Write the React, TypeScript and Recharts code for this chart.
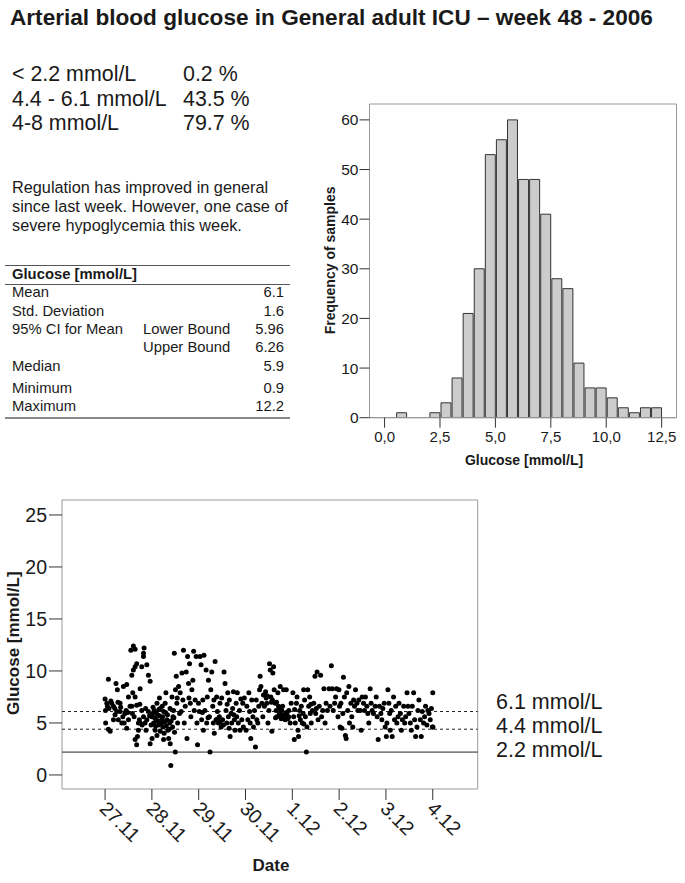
import React from "react";
import {
  ComposedChart, Bar, XAxis, YAxis, ReferenceArea, ScatterChart, Scatter, ReferenceLine,
} from "recharts";

// ---------- Histogram data ----------
const binStarts = [0.5, 1.0, 1.5, 2.0, 2.5, 3.0, 3.5, 4.0, 4.5, 5.0, 5.5, 6.0, 6.5, 7.0, 7.5, 8.0, 8.5, 9.0, 9.5, 10.0, 10.5, 11.0, 11.5, 12.0];
const binCounts = [1, 0, 0, 1, 3, 8, 21, 30, 53, 56, 60, 48, 48, 41, 28, 26, 11, 6, 6, 4, 2, 1, 2, 2];
const binWidth = 0.5;
const histXTicks = [0, 2.5, 5, 7.5, 10, 12.5];
const histYTicks = [0, 10, 20, 30, 40, 50, 60];

// ---------- Scatter data: [hour of day, glucose mmol/L] ----------
const dateLabels = ["27.11", "28.11", "29.11", "30.11", "1.12", "2.12", "3.12", "4.12"];
const nov27: [number, number][] = [
  [0.0, 7.3], [0.2, 6.2], [0.3, 5.0], [0.9, 6.9], [1.7, 9.2], [1.7, 4.4], [2.6, 4.2], [3.4, 6.9], [4.3, 6.6], [4.3, 5.3],
  [5.1, 5.8], [5.6, 8.8], [6.0, 6.1], [6.3, 8.2], [6.8, 5.3], [7.7, 6.9], [7.7, 6.1], [8.6, 5.0], [9.1, 5.6], [9.4, 8.5],
  [9.8, 5.0], [10.8, 6.2], [11.1, 8.7], [11.1, 4.5], [12.0, 7.5], [12.0, 5.3], [12.8, 6.6], [13.2, 12.0], [13.7, 9.6], [13.7, 6.6],
  [14.2, 7.9], [14.5, 12.4], [14.5, 10.1], [14.9, 5.6], [15.4, 12.1], [15.4, 10.4], [15.4, 7.5], [15.4, 3.4], [16.2, 10.7], [16.2, 6.7],
  [16.2, 2.9], [16.6, 3.7], [17.1, 5.0], [17.1, 4.3], [17.6, 5.3], [18.0, 8.3], [18.0, 5.0], [18.8, 10.4], [18.8, 6.2], [19.7, 11.4],
  [19.7, 11.7], [19.7, 5.6], [20.0, 12.2], [20.5, 5.0], [21.0, 4.3], [21.4, 10.6], [21.4, 5.3], [22.2, 9.6], [22.2, 6.1], [23.1, 9.0],
  [23.1, 3.0], [2.0, 6.4], [3.0, 7.1], [5.0, 6.4], [8.0, 6.5], [10.2, 5.9], [14.0, 5.9], [19.0, 4.8], [22.8, 5.7],
  [1.2, 6.6], [6.6, 7.0], [11.6, 6.0], [17.8, 6.8], [20.8, 6.4], [23.6, 4.8],
];
const nov28: [number, number][] = [
  [0.0, 5.6], [0.1, 3.5], [0.3, 5.9], [0.9, 5.0], [1.2, 6.2], [1.4, 5.5], [1.7, 4.3], [2.1, 6.0], [2.2, 5.3], [2.6, 6.9],
  [2.6, 3.8], [2.9, 5.8], [3.1, 5.2], [3.4, 4.8], [3.8, 5.7], [3.9, 7.4], [4.3, 6.4], [4.3, 4.2], [4.8, 4.9], [5.1, 5.3],
  [5.5, 5.6], [5.6, 4.6], [6.0, 6.1], [6.0, 3.4], [6.3, 4.0], [6.5, 5.1], [6.8, 6.9], [7.2, 7.9], [7.4, 4.7], [7.7, 5.3],
  [8.0, 5.8], [8.2, 4.3], [8.6, 3.5], [8.9, 4.4], [9.1, 5.0], [9.4, 3.0], [9.7, 0.9], [9.9, 5.2], [10.3, 7.5], [10.6, 4.6],
  [10.8, 5.6], [11.1, 6.2], [11.5, 11.7], [11.6, 4.1], [12.0, 2.2], [12.1, 8.2], [12.5, 9.5], [12.8, 6.9], [13.2, 5.0], [13.7, 8.5],
  [14.2, 5.9], [14.5, 7.9], [15.4, 9.8], [15.9, 7.2], [16.2, 12.0], [16.6, 5.0], [17.1, 6.6], [17.6, 9.9], [18.0, 3.5], [18.3, 11.4],
  [18.8, 8.8], [19.3, 10.7], [19.7, 6.9], [20.0, 5.6], [20.5, 8.2], [21.0, 9.1], [21.4, 11.9], [21.7, 6.2], [22.2, 7.2], [22.7, 11.4],
  [23.1, 5.0], [23.4, 2.9], [23.9, 6.9],
  [0.6, 6.5], [1.9, 4.7], [3.6, 6.3], [5.3, 6.6], [7.0, 6.0], [9.3, 6.4], [11.3, 5.5], [13.0, 7.4], [15.0, 6.1], [19.0, 7.4],
];
const nov29: [number, number][] = [
  [0.3, 6.1], [0.7, 11.4], [1.2, 10.6], [1.5, 5.3], [2.1, 7.2], [2.4, 4.3], [2.7, 11.5], [3.2, 6.2], [3.8, 10.1], [4.1, 5.0],
  [4.4, 7.5], [5.0, 9.1], [5.5, 5.6], [5.8, 2.2], [6.2, 8.2], [6.7, 9.9], [7.2, 6.6], [7.5, 5.0], [8.0, 4.0], [8.4, 10.9],
  [8.9, 5.3], [9.2, 7.5], [9.6, 6.1], [10.1, 5.0], [10.6, 5.6], [10.9, 6.9], [11.5, 4.6], [11.8, 7.4], [12.3, 5.3], [13.0, 9.9],
  [13.5, 8.8], [14.0, 6.2], [14.4, 5.0], [14.9, 7.9], [15.2, 5.6], [15.7, 7.2], [16.1, 3.7], [16.6, 5.9], [16.9, 5.0], [17.4, 6.4],
  [17.8, 8.0], [18.3, 5.3], [18.6, 4.3], [19.2, 6.9], [19.5, 5.6], [19.8, 7.9], [20.3, 5.0], [20.9, 6.2], [21.2, 4.3], [22.1, 5.3],
  [22.6, 6.9], [22.9, 4.6], [23.4, 7.4], [9.8, 5.4], [12.7, 4.8], [15.6, 4.5],
  [1.9, 6.0], [4.8, 5.5], [7.8, 7.2], [11.0, 5.1], [14.6, 6.8], [18.0, 5.8], [21.6, 7.3],
];
const nov30: [number, number][] = [
  [0.3, 4.3], [0.7, 6.6], [1.2, 5.3], [1.7, 7.9], [2.1, 6.1], [2.4, 5.0], [2.7, 3.5], [3.2, 7.2], [3.8, 5.6], [4.1, 4.6],
  [4.6, 6.2], [5.1, 2.7], [5.5, 7.2], [5.8, 5.3], [6.3, 5.0], [6.8, 6.6], [7.2, 8.2], [7.5, 9.5], [7.9, 8.5], [8.4, 6.9],
  [8.9, 5.6], [9.2, 7.7], [9.7, 6.6], [10.3, 8.0], [10.6, 7.4], [10.9, 6.9], [11.5, 5.0], [12.0, 6.2], [12.3, 10.7], [12.7, 10.1],
  [13.0, 7.5], [13.5, 4.2], [14.0, 9.8], [14.4, 10.4], [14.7, 8.2], [15.2, 6.9], [15.4, 5.5], [15.7, 6.2], [16.1, 5.6], [16.6, 7.9],
  [16.9, 6.6], [17.1, 5.7], [17.4, 5.9], [17.8, 8.5], [18.3, 5.4], [18.6, 6.2], [18.8, 5.5], [19.2, 5.8], [19.5, 8.2], [19.8, 5.6],
  [20.3, 5.3], [20.5, 5.7], [20.9, 8.2], [21.2, 5.9], [21.7, 5.4], [22.1, 5.6], [22.2, 6.2], [22.9, 5.0], [23.4, 6.9], [13.2, 7.0],
  [11.2, 7.6], [13.8, 7.2], [15.9, 7.0], [17.6, 6.4], [19.0, 6.6], [21.0, 6.0],
];
const dec1: [number, number][] = [
  [0.3, 7.9], [0.7, 5.6], [1.0, 3.4], [1.5, 5.0], [2.1, 6.9], [2.4, 7.5], [2.9, 4.3], [3.2, 3.7], [3.8, 6.2], [4.1, 5.3],
  [4.6, 6.6], [5.1, 5.0], [5.5, 5.9], [5.8, 8.2], [6.3, 7.2], [6.7, 5.6], [7.2, 2.2], [7.5, 4.6], [7.9, 8.2], [8.4, 6.6],
  [8.9, 7.5], [9.2, 5.9], [9.7, 5.0], [10.3, 6.2], [11.0, 6.9], [11.6, 9.5], [12.0, 5.9], [12.7, 9.9], [13.2, 5.3], [13.8, 6.6],
  [14.5, 9.6], [15.0, 5.6], [15.6, 6.2], [16.2, 8.3], [16.8, 5.0], [17.3, 6.9], [18.0, 6.2], [18.8, 8.3], [19.3, 6.6], [20.0, 10.5],
  [20.5, 8.3], [21.0, 6.2], [21.7, 6.9], [22.2, 7.5], [22.7, 8.3], [23.4, 5.6], [23.9, 8.2],
  [1.2, 6.3], [3.5, 5.7], [5.9, 4.9], [9.5, 6.8], [12.3, 6.4],
];
const dec2: [number, number][] = [
  [0.2, 6.6], [0.5, 4.6], [0.9, 6.9], [1.4, 4.5], [1.9, 5.9], [2.2, 9.4], [2.7, 7.5], [3.2, 3.8], [3.6, 3.5], [3.9, 7.9],
  [4.4, 6.2], [5.0, 8.5], [5.3, 5.0], [6.0, 6.9], [6.5, 5.6], [7.0, 4.6], [7.4, 7.2], [7.9, 6.6], [8.4, 8.2], [9.1, 6.9],
  [9.6, 6.2], [10.1, 7.2], [10.8, 6.2], [11.3, 4.3], [11.8, 7.5], [12.5, 6.9], [13.0, 6.2], [13.5, 7.5], [14.2, 6.6], [14.7, 5.9],
  [15.2, 5.0], [15.9, 8.3], [16.4, 6.9], [16.9, 6.2], [17.6, 5.9], [18.5, 6.6], [19.0, 7.5], [19.5, 5.6], [20.0, 3.4], [20.7, 6.6],
  [21.4, 5.9], [21.9, 5.3], [22.4, 6.4], [23.1, 6.9], [23.6, 4.6],
];
const dec3: [number, number][] = [
  [0.2, 3.7], [0.5, 5.0], [1.0, 8.2], [1.5, 6.9], [1.9, 5.9], [2.2, 4.3], [2.7, 6.2], [3.2, 3.7], [3.9, 7.5], [4.4, 5.3],
  [5.0, 6.6], [5.6, 5.0], [6.2, 5.6], [6.7, 6.9], [7.4, 5.9], [7.9, 4.3], [8.4, 5.3], [9.1, 6.6], [9.6, 5.0], [10.1, 5.6],
  [10.8, 7.9], [11.3, 6.6], [11.8, 5.9], [12.5, 5.0], [13.0, 4.3], [13.5, 6.6], [14.2, 7.9], [14.7, 5.3], [15.2, 3.7], [15.9, 4.6],
  [16.4, 6.2], [16.9, 7.2], [17.6, 5.3], [18.1, 3.7], [18.6, 6.1], [19.3, 5.0], [19.8, 5.6], [20.3, 6.6], [21.0, 4.8], [21.5, 6.2],
  [22.1, 5.9], [22.7, 5.3], [23.3, 6.4], [23.8, 4.6],
];
const dec4: [number, number][] = [
  [0.0, 7.9], [0.1, 4.6],
];
const dayData = [nov27, nov28, nov29, nov30, dec1, dec2, dec3, dec4];
const refLevels = [6.1, 4.4, 2.2];
const glucoseTicks = [0, 5, 10, 15, 20, 25];
const dayTicks = [0, 1, 2, 3, 4, 5, 6, 7];

// ---------- Summary text ----------
const rangeRows = [
  ["< 2.2 mmol/L", "0.2 %"],
  ["4.4 - 6.1 mmol/L", "43.5 %"],
  ["4-8 mmol/L", "79.7 %"],
];
const commentLines = [
  "Regulation has improved in general",
  "since last week. However, one case of",
  "severe hypoglycemia this week.",
];
const statRows: [string, string, string][] = [
  ["Mean", "", "6.1"],
  ["Std. Deviation", "", "1.6"],
  ["95% CI for Mean", "Lower Bound", "5.96"],
  ["", "Upper Bound", "6.26"],
  ["Median", "", "5.9"],
  ["Minimum", "", "0.9"],
  ["Maximum", "", "12.2"],
];

const histData = binStarts.map((s, i) => ({ mid: s + binWidth / 2, count: binCounts[i] }));
const scatterData: { x: number; y: number }[] = [];
dayData.forEach((arr, d) => arr.forEach(([h, g]) => scatterData.push({ x: d + h / 24, y: g })));

const FONT = '"Liberation Sans", Arial, Helvetica, sans-serif';
const INK = "#1a1a1a";

function T(props: { x: number; y: number; size: number; bold?: boolean; align?: "left" | "right" | "center"; children: React.ReactNode; rotate?: boolean }) {
  const { x, y, size, bold, align = "left", children, rotate } = props;
  const style: React.CSSProperties = {
    position: "absolute",
    top: y - size * 0.6,
    height: size * 1.2,
    lineHeight: `${size * 1.2}px`,
    fontSize: size,
    fontWeight: bold ? "bold" : "normal",
    whiteSpace: "nowrap",
    color: INK,
  };
  if (rotate) {
    return (
      <div style={{ ...style, left: x, transform: "translate(-50%, 0) rotate(-90deg)", transformOrigin: "50% 50%" }}>{children}</div>
    );
  }
  if (align === "left") style.left = x;
  else if (align === "right") style.right = 685 - x;
  else { style.left = x; style.transform = "translateX(-50%)"; }
  return <div style={style}>{children}</div>;
}

// Histogram geometry (plot area: x 369.5-676.5, y 104-417.7)
const H_W = 385, H_H = 380;
const H_YW = 40, H_XH = 30;
const H_MARGIN = { top: 10, right: 8.5, bottom: H_H - 323.7 - H_XH, left: 69.5 - H_YW };
const H_DOMAIN: [number, number] = [-0.68, 13.17];
const H_BAR = (binWidth * (H_W - 69.5 - 8.5)) / (H_DOMAIN[1] - H_DOMAIN[0]);

// Scatter geometry (plot area: x 62-477.7, y 500-789)
const S_W = 490, S_H = 393;
const S_YW = 50, S_XH = 40;
const S_MARGIN = { top: 10, right: 12.3, bottom: S_H - 299 - S_XH, left: 62 - S_YW };
const S_X: [number, number] = [-0.92, 7.96];
const S_Y: [number, number] = [-1.35, 26.44];

const DateTick = (p: any) => {
  const { x, y, payload } = p;
  const tx = x - 3;
  const ty = y + 2;
  return (
    <text x={tx} y={ty} transform={`rotate(45 ${tx} ${ty})`} textAnchor="start" dominantBaseline="middle"
      fontSize={19.5} fill={INK} fontFamily={FONT}>
      {dateLabels[payload.value]}
    </text>
  );
};

const Dot = (p: any) => <circle cx={p.cx} cy={p.cy} r={2.5} fill="#000" />;

export default function App() {
  return (
    <div style={{ position: "absolute", left: 0, top: 0, width: 685, height: 883, background: "#fff", fontFamily: FONT, color: INK, overflow: "hidden" }}>
      <T x={10} y={18} size={22.6} bold>Arterial blood glucose in General adult ICU – week 48 - 2006</T>

      {rangeRows.map((r, i) => (
        <React.Fragment key={i}>
          <T x={12} y={75 + i * 24.5} size={21.4}>{r[0]}</T>
          <T x={183} y={75 + i * 24.5} size={21.4}>{r[1]}</T>
        </React.Fragment>
      ))}

      {commentLines.map((l, i) => (
        <T key={i} x={12} y={188 + i * 19} size={16.3}>{l}</T>
      ))}

      {/* table */}
      <div style={{ position: "absolute", left: 5, top: 264.5, width: 285, height: 1, background: "#555" }} />
      <T x={12} y={275} size={14.8} bold>Glucose [mmol/L]</T>
      <div style={{ position: "absolute", left: 5, top: 283.5, width: 285, height: 1, background: "#555" }} />
      {statRows.map((r, i) => {
        const ys = [293, 312, 330, 348, 367, 389, 407];
        return (
          <React.Fragment key={i}>
            {r[0] && <T x={12} y={ys[i]} size={14.8}>{r[0]}</T>}
            {r[1] && <T x={143} y={ys[i]} size={14.8}>{r[1]}</T>}
            <T x={284} y={ys[i]} size={14.8} align="right">{r[2]}</T>
          </React.Fragment>
        );
      })}
      <div style={{ position: "absolute", left: 5, top: 417, width: 285, height: 2, background: "#888" }} />

      {/* histogram */}
      <div style={{ position: "absolute", left: 300, top: 94 }}>
        <ComposedChart width={H_W} height={H_H} data={histData} margin={H_MARGIN}>
          <XAxis type="number" dataKey="mid" domain={H_DOMAIN} ticks={histXTicks} allowDataOverflow height={H_XH}
            tickFormatter={(v: number) => v.toFixed(1).replace(".", ",")}
            tick={{ fontSize: 15, fill: INK, fontFamily: FONT }} tickSize={10} tickMargin={4}
            tickLine={{ stroke: "#333" }} axisLine={{ stroke: "#999" }} interval={0} />
          <YAxis type="number" domain={[0, 63.2]} ticks={histYTicks} allowDataOverflow width={H_YW}
            tick={{ fontSize: 15.5, fill: INK, fontFamily: FONT }} tickSize={10} tickMargin={1}
            tickLine={{ stroke: "#333" }} axisLine={false} interval={0} />
          <ReferenceArea x1={H_DOMAIN[0]} x2={H_DOMAIN[1]} y1={0} y2={63.2} fill="#fff" fillOpacity={0} stroke="#999" strokeWidth={1} ifOverflow="visible" />
          <Bar dataKey="count" fill="#cccccc" stroke="#333" strokeWidth={1} barSize={H_BAR} isAnimationActive={false} />
        </ComposedChart>
      </div>
      <T x={330} y={260} size={14} bold rotate>Frequency of samples</T>
      <T x={524} y={460} size={14} bold align="center">Glucose [mmol/L]</T>

      {/* scatter */}
      <div style={{ position: "absolute", left: 0, top: 490 }}>
        <ScatterChart width={S_W} height={S_H} margin={S_MARGIN}>
          <XAxis type="number" dataKey="x" domain={S_X} ticks={dayTicks} allowDataOverflow height={S_XH}
            tick={<DateTick />} tickSize={11} tickMargin={4} tickLine={{ stroke: "#333" }} axisLine={false} interval={0} />
          <YAxis type="number" dataKey="y" domain={S_Y} ticks={glucoseTicks} allowDataOverflow width={S_YW}
            tick={{ fontSize: 19.5, fill: INK, fontFamily: FONT }} tickSize={13} tickMargin={2}
            tickLine={{ stroke: "#333" }} axisLine={false} interval={0} />
          <ReferenceArea x1={S_X[0]} x2={S_X[1]} y1={S_Y[0]} y2={S_Y[1]} fill="#fff" fillOpacity={0} stroke="#999" strokeWidth={1} ifOverflow="visible" />
          {refLevels.map((v, i) => (
            <ReferenceLine key={v} y={v} stroke="#222" strokeWidth={1} strokeDasharray={i < 2 ? "3 3" : undefined} />
          ))}
          <Scatter data={scatterData} shape={Dot} isAnimationActive={false} />
        </ScatterChart>
      </div>
      {refLevels.map((v, i) => (
        <T key={v} x={496} y={703 + i * 24} size={21.5}>{v.toFixed(1)} mmol/L</T>
      ))}
      <T x={14} y={643} size={17} bold rotate>Glucose [mmol/L]</T>
      <T x={271} y={866} size={17} bold align="center">Date</T>
    </div>
  );
}
